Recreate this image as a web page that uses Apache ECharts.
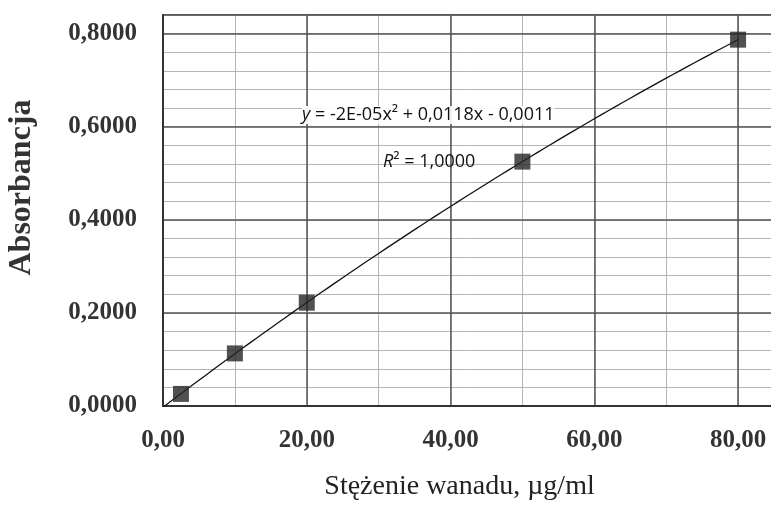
<!DOCTYPE html>
<html>
<head>
<meta charset="utf-8">
<script src="https://cdn.jsdelivr.net/npm/echarts@6/dist/echarts.min.js"></script>
<style>
  html, body { margin: 0; padding: 0; background: #fff; }
  #chart { width: 771px; height: 505px; }
</style>
</head>
<body>
<div id="chart"></div>
<script>
// stężenie wanadu (µg/ml) i odczytana absorbancja
var stezenie = [2.5, 10, 20, 50, 80];
var absorbancja = [0.026, 0.113, 0.222, 0.525, 0.787];
var rownanie = '{i|y} = -2E-05x² + 0,0118x - 0,0011';
var r2 = '{i|R}² = 1,0000';

var punkty = stezenie.map(function (x, i) { return [x, absorbancja[i]]; });

// wielomianowa linia trendu 2 stopnia (metoda najmniejszych kwadratow)
function dopasuj(xs, ys) {
    var s = [0, 0, 0, 0, 0], t = [0, 0, 0];
    for (var i = 0; i < xs.length; i++) {
        var p = 1;
        for (var k = 0; k < 5; k++) { s[k] += p; if (k < 3) t[k] += p * ys[i]; p *= xs[i]; }
    }
    var m = [[s[0], s[1], s[2], t[0]], [s[1], s[2], s[3], t[1]], [s[2], s[3], s[4], t[2]]];
    for (var c = 0; c < 3; c++) {
        for (var r = c + 1; r < 3; r++) {
            var f = m[r][c] / m[c][c];
            for (var j = c; j < 4; j++) m[r][j] -= f * m[c][j];
        }
    }
    var w = [0, 0, 0];
    for (var r = 2; r >= 0; r--) {
        var v = m[r][3];
        for (var j = r + 1; j < 3; j++) v -= m[r][j] * w[j];
        w[r] = v / m[r][r];
    }
    return w;
}
var wsp = dopasuj(stezenie, absorbancja);
var trend = [];
for (var x = 0; x <= 80; x += 1) {
    trend.push([x, wsp[0] + wsp[1] * x + wsp[2] * x * x]);
}

var chart = echarts.init(document.getElementById('chart'));
var fontLab = { fontFamily: 'Liberation Serif', fontWeight: 'bold', fontSize: 25, color: '#333' };

var option = {
    animation: false,
    grid: {
        left: 163, top: 15, right: -3, bottom: 99,
        outerBoundsMode: 'none',
        show: true, borderColor: '#333', borderWidth: 1.5
    },
    xAxis: [{
        type: 'value', min: 0, max: 85, interval: 20, z: 2,
        axisLine: { show: true, lineStyle: { color: '#333', width: 2 } },
        axisTick: { show: false },
        axisLabel: Object.assign({ margin: 22, showMaxLabel: false,
            formatter: function (v) { return v.toFixed(2).replace('.', ','); } }, fontLab),
        splitLine: { show: true, lineStyle: { color: '#555', width: 1.5 } },
        name: 'Stężenie wanadu, µg/ml', nameLocation: 'middle', nameGap: 67,
        nameTextStyle: { fontFamily: 'Liberation Serif', fontSize: 28, color: '#222', padding: [0, 18, 0, 0] }
    }, {
        type: 'value', min: 0, max: 85, interval: 10, z: 1,
        axisLine: { show: false }, axisTick: { show: false }, axisLabel: { show: false },
        splitLine: { show: true, lineStyle: { color: '#b5b5b5', width: 1 } }
    }],
    yAxis: [{
        type: 'value', min: 0, max: 0.84, interval: 0.2, z: 2,
        axisLine: { show: true, lineStyle: { color: '#333', width: 2 } },
        axisTick: { show: false },
        axisLabel: Object.assign({ margin: 26, showMaxLabel: false,
            formatter: function (v) { return v.toFixed(4).replace('.', ','); } }, fontLab),
        splitLine: { show: true, lineStyle: { color: '#555', width: 1.5 } },
        name: 'Absorbancja', nameLocation: 'middle', nameGap: 125,
        nameTextStyle: { fontFamily: 'Liberation Serif', fontWeight: 'bold', fontSize: 32, color: '#333', padding: [0, 0, 0, 46] }
    }, {
        type: 'value', min: 0, max: 0.84, interval: 0.04, z: 1, position: 'left',
        axisLine: { show: false }, axisTick: { show: false }, axisLabel: { show: false },
        splitLine: { show: true, lineStyle: { color: '#b5b5b5', width: 1 } }
    }],
    graphic: [{
        type: 'text', left: 302, top: 106, z: 10,
        style: {
            text: rownanie, fontFamily: 'Open Sans', fontSize: 18, fill: '#111',
            backgroundColor: 'rgba(255,255,255,0.9)',
            rich: { i: { fontStyle: 'italic', fontFamily: 'Open Sans', fontSize: 18, fill: '#111' } }
        }
    }, {
        type: 'text', left: 383, top: 153, z: 10,
        style: {
            text: r2, fontFamily: 'Open Sans', fontSize: 18, fill: '#111',
            rich: { i: { fontStyle: 'italic', fontFamily: 'Open Sans', fontSize: 18, fill: '#111' } }
        }
    }],
    series: [{
        type: 'line', data: trend, showSymbol: false, smooth: false, z: 3,
        lineStyle: { color: '#111', width: 1.3 }
    }, {
        type: 'scatter', data: punkty, symbol: 'rect', symbolSize: 16, z: 4,
        itemStyle: { color: '#262626' }
    }]
};
chart.setOption(option);
</script>
</body>
</html>
